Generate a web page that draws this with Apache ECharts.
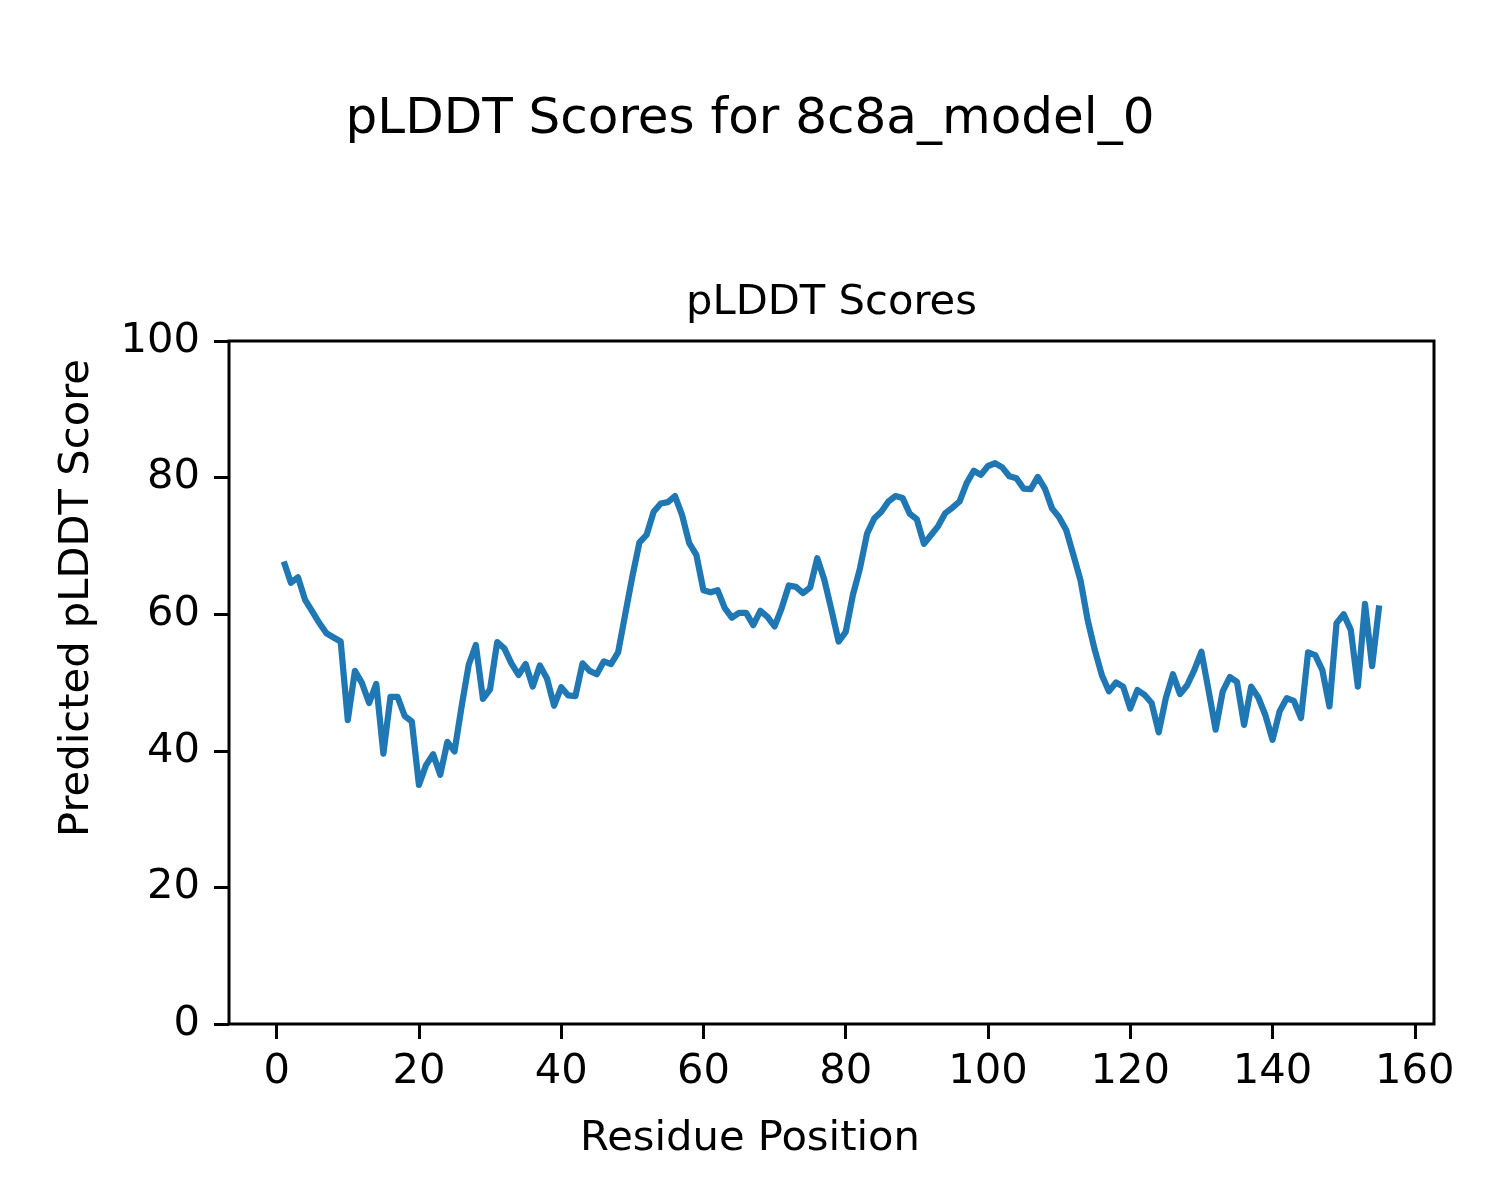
<!DOCTYPE html>
<html>
<head>
<meta charset="utf-8">
<script src="https://cdn.jsdelivr.net/npm/echarts@6/dist/echarts.min.js"></script>
<style>
html,body{margin:0;padding:0;background:#fff;}
#chart{width:1500px;height:1200px;}
</style>
</head>
<body>
<div id="chart"></div>
<script>
const scores = [
  67.7, 64.6, 65.4, 62.1, 60.4, 58.7, 57.2, 56.6, 56.0, 44.5,
  51.7, 49.9, 47.0, 49.8, 39.6, 47.9, 47.9, 45.1, 44.3, 35.0,
  37.9, 39.5, 36.5, 41.3, 39.9, 46.5, 52.6, 55.5, 47.6, 49.0,
  55.9, 55.0, 52.8, 51.1, 52.7, 49.4, 52.5, 50.6, 46.6, 49.3,
  48.1, 48.0, 52.8, 51.7, 51.2, 53.1, 52.7, 54.4, 60.0, 65.5,
  70.5, 71.6, 75.0, 76.2, 76.4, 77.3, 74.5, 70.4, 68.7, 63.5,
  63.2, 63.5, 60.9, 59.5, 60.2, 60.2, 58.4, 60.5, 59.6, 58.2,
  60.9, 64.2, 64.0, 63.1, 63.9, 68.2, 65.0, 60.6, 56.0, 57.4,
  62.8, 66.7, 71.8, 74.0, 75.0, 76.5, 77.3, 77.0, 74.7, 73.9,
  70.3, 71.6, 72.9, 74.8, 75.6, 76.5, 79.2, 81.0, 80.4, 81.7,
  82.1, 81.5, 80.2, 79.9, 78.4, 78.3, 80.1, 78.4, 75.5, 74.2,
  72.3, 68.7, 65.0, 59.2, 54.8, 51.1, 48.7, 50.0, 49.4, 46.2,
  48.9, 48.2, 47.0, 42.7, 47.7, 51.2, 48.3, 49.6, 51.8, 54.5,
  48.9, 43.1, 48.7, 50.8, 50.1, 43.8, 49.4, 47.8, 45.2, 41.6,
  45.8, 47.7, 47.3, 44.8, 54.4, 54.0, 51.8, 46.5, 58.7, 60.0,
  57.7, 49.4, 61.5, 52.4, 61.3
];
const residues = scores.map((_, i) => i + 1);
const xTicks = [0, 20, 40, 60, 80, 100, 120, 140, 160];
const yTicks = [0, 20, 40, 60, 80, 100];
const figTitle = 'pLDDT Scores for 8c8a_model_0';
const axTitle = 'pLDDT Scores';
const xLabel = 'Residue Position';
const yLabel = 'Predicted pLDDT Score';

const FONT = 'DejaVu Sans';
const chart = echarts.init(document.getElementById('chart'), null, {renderer: 'canvas'});
const span = residues[residues.length - 1] - residues[0];
const xMin = residues[0] - 0.05 * span;
const xMax = residues[residues.length - 1] + 0.05 * span;

chart.setOption({
  animation: false,
  backgroundColor: '#fff',
  grid: {left: 229, right: 66, top: 341, bottom: 176, show: true, borderColor: '#000', borderWidth: 3, backgroundColor: 'transparent'},
  xAxis: {
    type: 'value', min: xMin, max: xMax,
    axisLine: {show: false, onZero: false},
    splitLine: {show: false},
    axisTick: {show: true, inside: false, length: 15, lineStyle: {color: '#000', width: 3}, customValues: xTicks},
    axisLabel: {show: true, margin: 27, color: '#000', fontFamily: FONT, fontSize: 41.67, customValues: xTicks, formatter: v => String(v)}
  },
  yAxis: {
    type: 'value', min: 0, max: 100, interval: 20,
    axisLine: {show: false, onZero: false},
    splitLine: {show: false},
    axisTick: {show: true, inside: false, length: 15, lineStyle: {color: '#000', width: 3}, customValues: yTicks},
    axisLabel: {show: true, margin: 29, color: '#000', fontFamily: FONT, fontSize: 41.67, customValues: yTicks, formatter: v => String(v)}
  },
  series: [{
    type: 'line',
    data: residues.map((r, i) => [r, scores[i]]),
    showSymbol: false,
    symbol: 'none',
    lineStyle: {color: '#1f77b4', width: 6.25, join: 'round', cap: 'butt'},
    itemStyle: {color: '#1f77b4'}
  }],
  graphic: [
    {type: 'text', x: 750, y: 120, style: {text: figTitle, font: '50px "DejaVu Sans"', fill: '#000', textAlign: 'center', textVerticalAlign: 'middle'}},
    {type: 'text', x: 831.5, y: 303, style: {text: axTitle, font: '41.67px "DejaVu Sans"', fill: '#000', textAlign: 'center', textVerticalAlign: 'middle'}},
    {type: 'text', x: 750, y: 1139, style: {text: xLabel, font: '41.67px "DejaVu Sans"', fill: '#000', textAlign: 'center', textVerticalAlign: 'middle'}},
    {type: 'text', x: 77, y: 598, rotation: Math.PI / 2, style: {text: yLabel, font: '41.67px "DejaVu Sans"', fill: '#000', textAlign: 'center', textVerticalAlign: 'middle'}}
  ]
});
</script>
</body>
</html>
